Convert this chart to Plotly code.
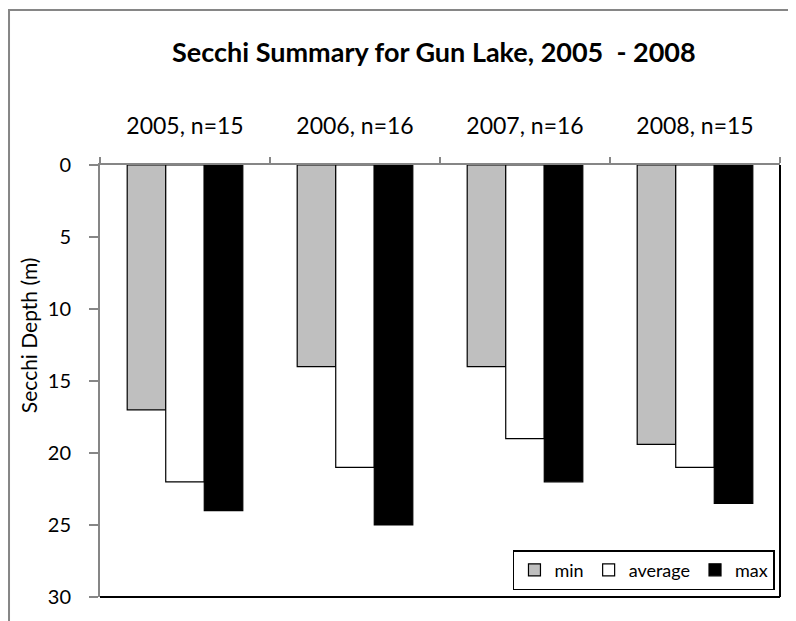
import plotly.graph_objects as go

categories = ["2005, n=15", "2006, n=16", "2007, n=16", "2008, n=15"]
min_vals = [17, 14, 14, 19.4]
avg_vals = [22, 21.0, 19, 21.0]
max_vals = [24, 25, 22, 23.5]

FONT = "Lato"
GRAY = "#868686"

fig = go.Figure()
fig.add_bar(x=categories, y=min_vals, name="min",
            marker=dict(color="#BFBFBF", line=dict(color="black", width=1.2)))
fig.add_bar(x=categories, y=avg_vals, name="average",
            marker=dict(color="white", line=dict(color="black", width=1.2)))
fig.add_bar(x=categories, y=max_vals, name="max",
            marker=dict(color="black", line=dict(color="black", width=1.2)))

fig.update_layout(
    width=796, height=621,
    paper_bgcolor="white", plot_bgcolor="white",
    margin=dict(l=92, r=24, t=157, b=32),
    barmode="group", bargap=0.32, bargroupgap=0,
    font=dict(family=FONT, color="black", size=20),
    title=dict(text="<b>Secchi Summary for Gun Lake, 2005  - 2008</b>",
               x=0.535, xanchor="center", y=0.9275, yanchor="middle",
               font=dict(family=FONT, size=27, color="black")),
    showlegend=True,
    legend=dict(orientation="h", x=0.9926, xanchor="right", y=0.016, yanchor="bottom",
                bordercolor="black", borderwidth=1.5, bgcolor="white",
                font=dict(family=FONT, size=18), traceorder="normal"),
    xaxis=dict(side="top", type="category", showline=True, linecolor=GRAY, linewidth=2,
               ticks="outside", tickson="boundaries", ticklen=6, tickcolor=GRAY,
               tickwidth=1.5, showgrid=False, ticklabelstandoff=20,
               tickfont=dict(family=FONT, size=23)),
    yaxis=dict(range=[30, 0], dtick=5, showline=True, linecolor=GRAY, linewidth=2,
               ticks="outside", ticklen=9, tickcolor=GRAY, tickwidth=1.5,
               showgrid=False, zeroline=False, ticklabelstandoff=14,
               tickfont=dict(family=FONT, size=20)),
    annotations=[
        dict(text="Secchi Depth (m)", xref="paper", yref="paper", x=-0.106, y=0.606,
             xanchor="center", yanchor="middle", textangle=-90, showarrow=False,
             font=dict(family=FONT, size=21, color="black")),
    ],
    shapes=[
        dict(type="line", xref="paper", yref="paper", x0=1, x1=1, y0=0, y1=1,
             line=dict(color="black", width=2)),
        dict(type="line", xref="paper", yref="paper", x0=0, x1=1, y0=0, y1=0,
             line=dict(color="black", width=2)),
        dict(type="rect", xref="paper", yref="paper", x0=-0.1338, x1=1.2,
             y0=-0.3, y1=1.3588, line=dict(color=GRAY, width=2),
             fillcolor="rgba(0,0,0,0)"),
    ],
)

fig.write_html("out.html")
